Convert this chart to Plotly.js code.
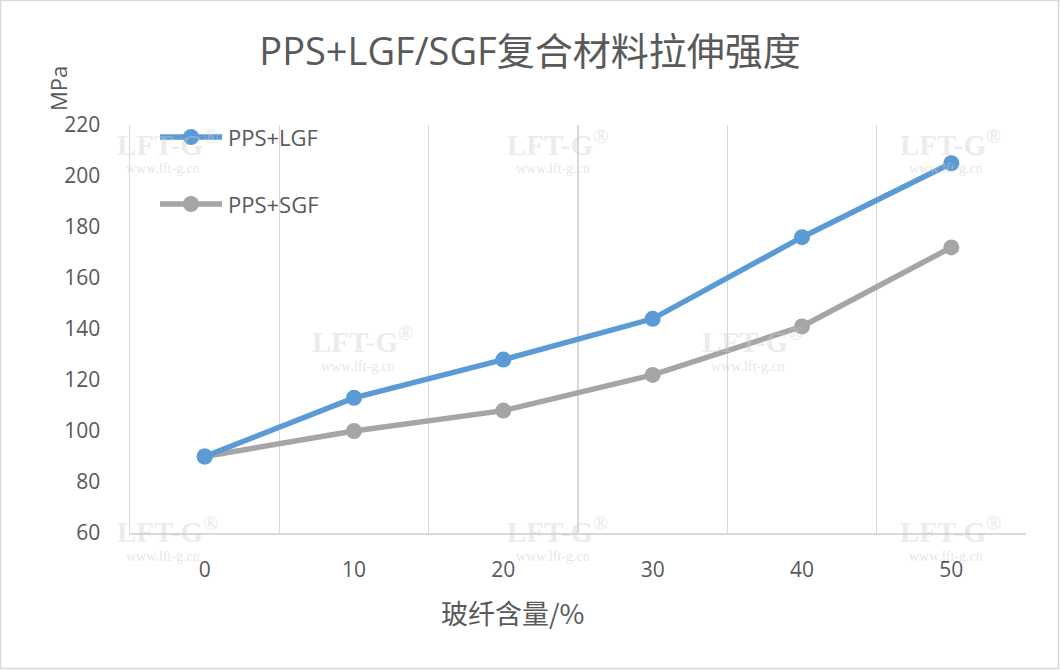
<!DOCTYPE html>
<html>
<head>
<meta charset="utf-8">
<script src="https://cdn.plot.ly/plotly-3.0.1.min.js"></script>
<style>html,body{margin:0;padding:0;background:#fff;}#chart{width:1060px;height:671px;}</style>
</head>
<body>
<div id="chart"></div>
<script>
// ---- data ----
const categories = [0, 10, 20, 30, 40, 50];
const seriesNames = ["PPS+LGF", "PPS+SGF"];
const lgfValues = [90, 113, 128, 144, 176, 205];
const sgfValues = [90, 100, 108, 122, 141, 172];
const yTickVals = [60, 80, 100, 120, 140, 160, 180, 200, 220];
const chartTitle = "PPS+LGF/SGF复合材料拉伸强度";
const xTitle = "玻纤含量/%";
const yTitle = "MPa";
const watermarkMain = "LFT-G<sup>®</sup>";
const watermarkSub = "www.lft-g.cn";

const colors = ["#5B9BD5", "#A5A5A5"];
const FONT = "'Open Sans', 'Noto Sans CJK SC', sans-serif";
const CJK = "'Noto Sans CJK SC', 'Open Sans', sans-serif";

// plot area geometry (pixels)
const W = 1060, H = 671;
const M = {l: 130, r: 34, t: 125, b: 138};
const PW = W - M.l - M.r, PH = H - M.t - M.b;
const px = x => (x - M.l) / PW;
const py = y => (H - M.b - y) / PH;

const traces = [lgfValues, sgfValues].map((vals, i) => ({
  x: categories, y: vals, name: seriesNames[i], type: "scatter", mode: "lines+markers",
  line: {color: colors[i], width: 5.5}, marker: {color: colors[i], size: 16},
  showlegend: false, hoverinfo: "x+y"
}));
// draw gray below blue
traces.reverse();

const shapes = [];
const annotations = [];

// outer frame
shapes.push({type: "rect", xref: "paper", yref: "paper",
  x0: px(0.5), x1: px(W - 1.5), y0: py(H - 2.5), y1: py(0.5),
  line: {color: "#d9d9d9", width: 1.5}, fillcolor: "rgba(0,0,0,0)", layer: "below"});

// watermarks
const wmPos = [[167,143],[557,143],[950,143],[362,340],[752,340],[167,530],[557,530],[950,530]];
wmPos.forEach(p => {
  annotations.push({xref: "paper", yref: "paper", x: px(p[0]), y: py(p[1]), xanchor: "center", yanchor: "middle",
    text: watermarkMain, showarrow: false,
    font: {family: "'Liberation Serif', serif", size: 29, color: "rgba(205,205,205,0.4)", weight: "bold"}});
  annotations.push({xref: "paper", yref: "paper", x: px(p[0] - 4), y: py(p[1] + 26), xanchor: "center", yanchor: "middle",
    text: watermarkSub, showarrow: false,
    font: {family: "'Liberation Serif', serif", size: 14, color: "rgba(205,205,205,0.5)"}});
});

// manual legend
const legY = [137, 204];
seriesNames.forEach((n, i) => {
  shapes.push({type: "line", xref: "paper", yref: "paper", x0: px(160), x1: px(222), y0: py(legY[i]), y1: py(legY[i]),
    line: {color: colors[i], width: 5.5}});
  shapes.push({type: "circle", xref: "paper", yref: "paper", x0: px(183), x1: px(199), y0: py(legY[i] + 8), y1: py(legY[i] - 8),
    line: {color: colors[i], width: 0}, fillcolor: colors[i]});
  annotations.push({xref: "paper", yref: "paper", x: px(226), y: py(legY[i]), xanchor: "left", yanchor: "middle",
    text: n, showarrow: false, font: {family: FONT, size: 22, color: "#595959"}});
});

// y title
annotations.push({xref: "paper", yref: "paper", x: px(58), y: py(89), xanchor: "center", yanchor: "middle",
  text: yTitle, textangle: -90, showarrow: false, font: {family: FONT, size: 22, color: "#595959"}});
// x title
annotations.push({xref: "paper", yref: "paper", x: px(512), y: py(612), xanchor: "center", yanchor: "middle",
  text: xTitle, showarrow: false, font: {family: CJK, size: 27, color: "#595959"}});

const layout = {
  width: W, height: H,
  margin: M,
  paper_bgcolor: "#fff", plot_bgcolor: "#fff",
  title: {text: chartTitle, x: 0.5, xref: "container", xanchor: "center", yref: "container", y: 1 - 52 / H, yanchor: "middle",
    font: {family: FONT, size: 38, color: "#595959"}},
  xaxis: {
    range: [-5, 55], tickvals: categories, ticktext: categories.map(String),
    showgrid: false, zeroline: false, ticks: "outside", ticklen: 17, tickcolor: "rgba(0,0,0,0)",
    showline: true, linecolor: "#d9d9d9", linewidth: 1.5,
    minor: {tick0: 5, dtick: 10, showgrid: true, gridcolor: "#d9d9d9", gridwidth: 1.5, ticks: ""},
    tickfont: {family: FONT, size: 21, color: "#595959"}, fixedrange: true
  },
  yaxis: {
    range: [60, 220], tickvals: yTickVals, showgrid: false, zeroline: false,
    showline: true, linecolor: "#d9d9d9", linewidth: 1.5,
    ticks: "outside", ticklen: 24, tickcolor: "rgba(0,0,0,0)",
    tickfont: {family: FONT, size: 21, color: "#595959"}, fixedrange: true
  },
  shapes: shapes,
  annotations: annotations,
  showlegend: false
};

Plotly.newPlot("chart", traces, layout, {displayModeBar: false, staticPlot: true});
</script>
</body>
</html>
